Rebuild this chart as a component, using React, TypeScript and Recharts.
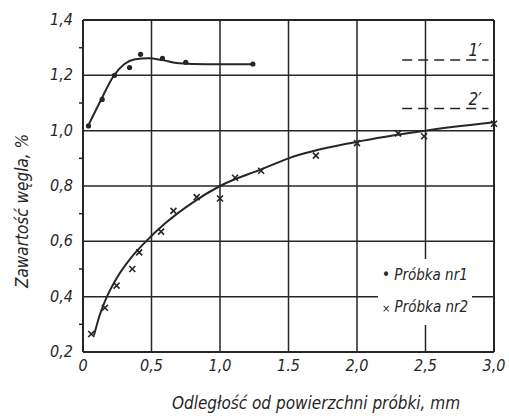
import { ComposedChart, Line, Scatter, XAxis, YAxis, ReferenceLine } from "recharts";

const xTicks = [0, 0.5, 1.0, 1.5, 2.0, 2.5, 3.0];
const xTickLabels = ["0", "0,5", "1,0", "1.5", "2,0", "2,5", "3,0"];
const yTicks = [0.2, 0.3, 0.4, 0.5, 0.6, 0.7, 0.8, 0.9, 1.0, 1.1, 1.2, 1.3, 1.4];
const yMajor = [0.2, 0.4, 0.6, 0.8, 1.0, 1.2, 1.4];
const yTickLabels = ["0,2", "0,4", "0,6", "0,8", "1,0", "1,2", "1,4"];

const sample1X = [0.04, 0.14, 0.23, 0.34, 0.42, 0.58, 0.75, 1.24];
const sample1Y = [1.017, 1.113, 1.2, 1.228, 1.276, 1.261, 1.247, 1.241];
const curve1X = [0.04, 0.13, 0.22, 0.3, 0.38, 0.48, 0.58, 0.7, 0.9, 1.24];
const curve1Y = [1.02, 1.11, 1.195, 1.24, 1.258, 1.262, 1.255, 1.244, 1.24, 1.24];

const sample2X = [0.06, 0.16, 0.245, 0.36, 0.41, 0.57, 0.66, 0.83, 1.0, 1.11, 1.3, 1.7, 2.0, 2.3, 2.49, 3.0];
const sample2Y = [0.265, 0.36, 0.44, 0.5, 0.56, 0.635, 0.71, 0.76, 0.755, 0.83, 0.855, 0.91, 0.955, 0.99, 0.98, 1.025];
const curve2X = [0.08, 0.12, 0.175, 0.25, 0.35, 0.46, 0.6, 0.8, 1.0, 1.3, 1.5, 2.0, 2.5, 3.0];
const curve2Y = [0.26, 0.33, 0.4, 0.47, 0.54, 0.6, 0.665, 0.74, 0.8, 0.86, 0.9, 0.96, 1.0, 1.03];

const refLevels = [1.255, 1.08];
const refLabels = ["1′", "2′"];
const refFrom = 2.33;
const refTo = 2.96;

const legendNames = ["Próbka nr1", "Próbka nr2"];

const pairs = (xs: number[], ys: number[]) => xs.map((x, i) => ({ x, y: ys[i] }));
const sample1 = pairs(sample1X, sample1Y);
const sample2 = pairs(sample2X, sample2Y);
const curve1 = pairs(curve1X, curve1Y);
const curve2 = pairs(curve2X, curve2Y);

const ink = "#262626";
const font = "'Liberation Sans Narrow', 'DejaVu Sans Condensed', 'Liberation Sans', sans-serif";

const YTick = (props: any) => {
  const { x, y, payload } = props;
  const idx = yMajor.indexOf(Math.round(payload.value * 10) / 10);
  if (idx < 0) {
    return <line x1={x + 4} x2={x + 9} y1={y} y2={y} stroke={ink} strokeWidth={1.5} />;
  }
  return (
    <text x={x - 2} y={y} dy={5} textAnchor="end" fontSize={16} fontStyle="italic" fill={ink} fontFamily={font}>
      {yTickLabels[idx]}
    </text>
  );
};

const Cross = (props: any) => {
  const { cx, cy } = props;
  const s = 3;
  return (
    <g stroke={ink} strokeWidth={1.6}>
      <line x1={cx - s} y1={cy - s} x2={cx + s} y2={cy + s} />
      <line x1={cx - s} y1={cy + s} x2={cx + s} y2={cy - s} />
    </g>
  );
};

const Dot = (props: any) => <circle cx={props.cx} cy={props.cy} r={2.6} fill={ink} />;

export default function App() {
  return (
    <div style={{ position: "absolute", left: 0, top: 0, width: 509, height: 418, background: "#fff" }}>
      <ComposedChart width={509} height={418} margin={{ top: 20, right: 15, left: 0, bottom: 0 }}>
        <XAxis
          type="number"
          dataKey="x"
          domain={[0, 3]}
          ticks={xTicks}
          tickLine={false}
          axisLine={{ stroke: ink, strokeWidth: 2 }}
          height={66}
          tick={{ fontSize: 16, fontStyle: "italic", fill: ink, fontFamily: font }}
          tickFormatter={(v: number) => xTickLabels[xTicks.indexOf(v)] ?? ""}
          label={() => (
            <text x={316} y={409} textAnchor="middle" fontSize={17} fontStyle="italic" fill={ink} fontFamily={font}>
              Odległość od powierzchni próbki, mm
            </text>
          )}
        />
        <YAxis
          type="number"
          dataKey="y"
          domain={[0.2, 1.4]}
          ticks={yTicks}
          interval={0}
          width={83}
          tickLine={false}
          axisLine={{ stroke: ink, strokeWidth: 2 }}
          tick={<YTick />}
          label={() => (
            <text x={28} y={211} transform="rotate(-90 28 211)" textAnchor="middle" fontSize={17} fontStyle="italic" fill={ink} fontFamily={font}>
              Zawartość węgla, %
            </text>
          )}
        />
        {xTicks.slice(1, -1).map((v) => (
          <ReferenceLine key={"vx" + v} x={v} stroke={ink} strokeWidth={1.5} />
        ))}
        {yMajor.slice(1, -1).map((v) => (
          <ReferenceLine key={"hy" + v} y={v} stroke={ink} strokeWidth={1.5} />
        ))}
        <ReferenceLine x={3} stroke={ink} strokeWidth={2} />
        <ReferenceLine y={1.4} stroke={ink} strokeWidth={2} />
        {refLevels.map((lv, i) => (
          <ReferenceLine
            key={"ref" + i}
            segment={[{ x: refFrom, y: lv }, { x: refTo, y: lv }]}
            stroke={ink}
            strokeWidth={1.5}
            strokeDasharray="10 6"
            label={(p: any) => {
              const vb = p.viewBox || {};
              return (
                <text x={(vb.x ?? 0) + (vb.width ?? 0) - 20} y={(vb.y ?? 0) - 4} fontSize={17} fontStyle="italic" fill={ink} fontFamily={font}>
                  {refLabels[i]}
                </text>
              );
            }}
          />
        ))}
        <Line data={curve1} dataKey="y" type="monotone" stroke={ink} strokeWidth={2} dot={false} isAnimationActive={false} />
        <Line data={curve2} dataKey="y" type="monotone" stroke={ink} strokeWidth={2} dot={false} isAnimationActive={false} />
        <Scatter data={sample1} dataKey="y" shape={<Dot />} isAnimationActive={false} />
        <Scatter data={sample2} dataKey="y" shape={<Cross />} isAnimationActive={false} />
      </ComposedChart>
      <div style={{ position: "absolute", left: 378, top: 259, fontFamily: font, fontStyle: "italic", fontSize: 15, color: ink, lineHeight: "32px", background: "#fff", padding: "0 4px" }}>
        <div>• {legendNames[0]}</div>
        <div><span style={{ fontSize: 11, fontStyle: "normal" }}>×</span> {legendNames[1]}</div>
      </div>
    </div>
  );
}
